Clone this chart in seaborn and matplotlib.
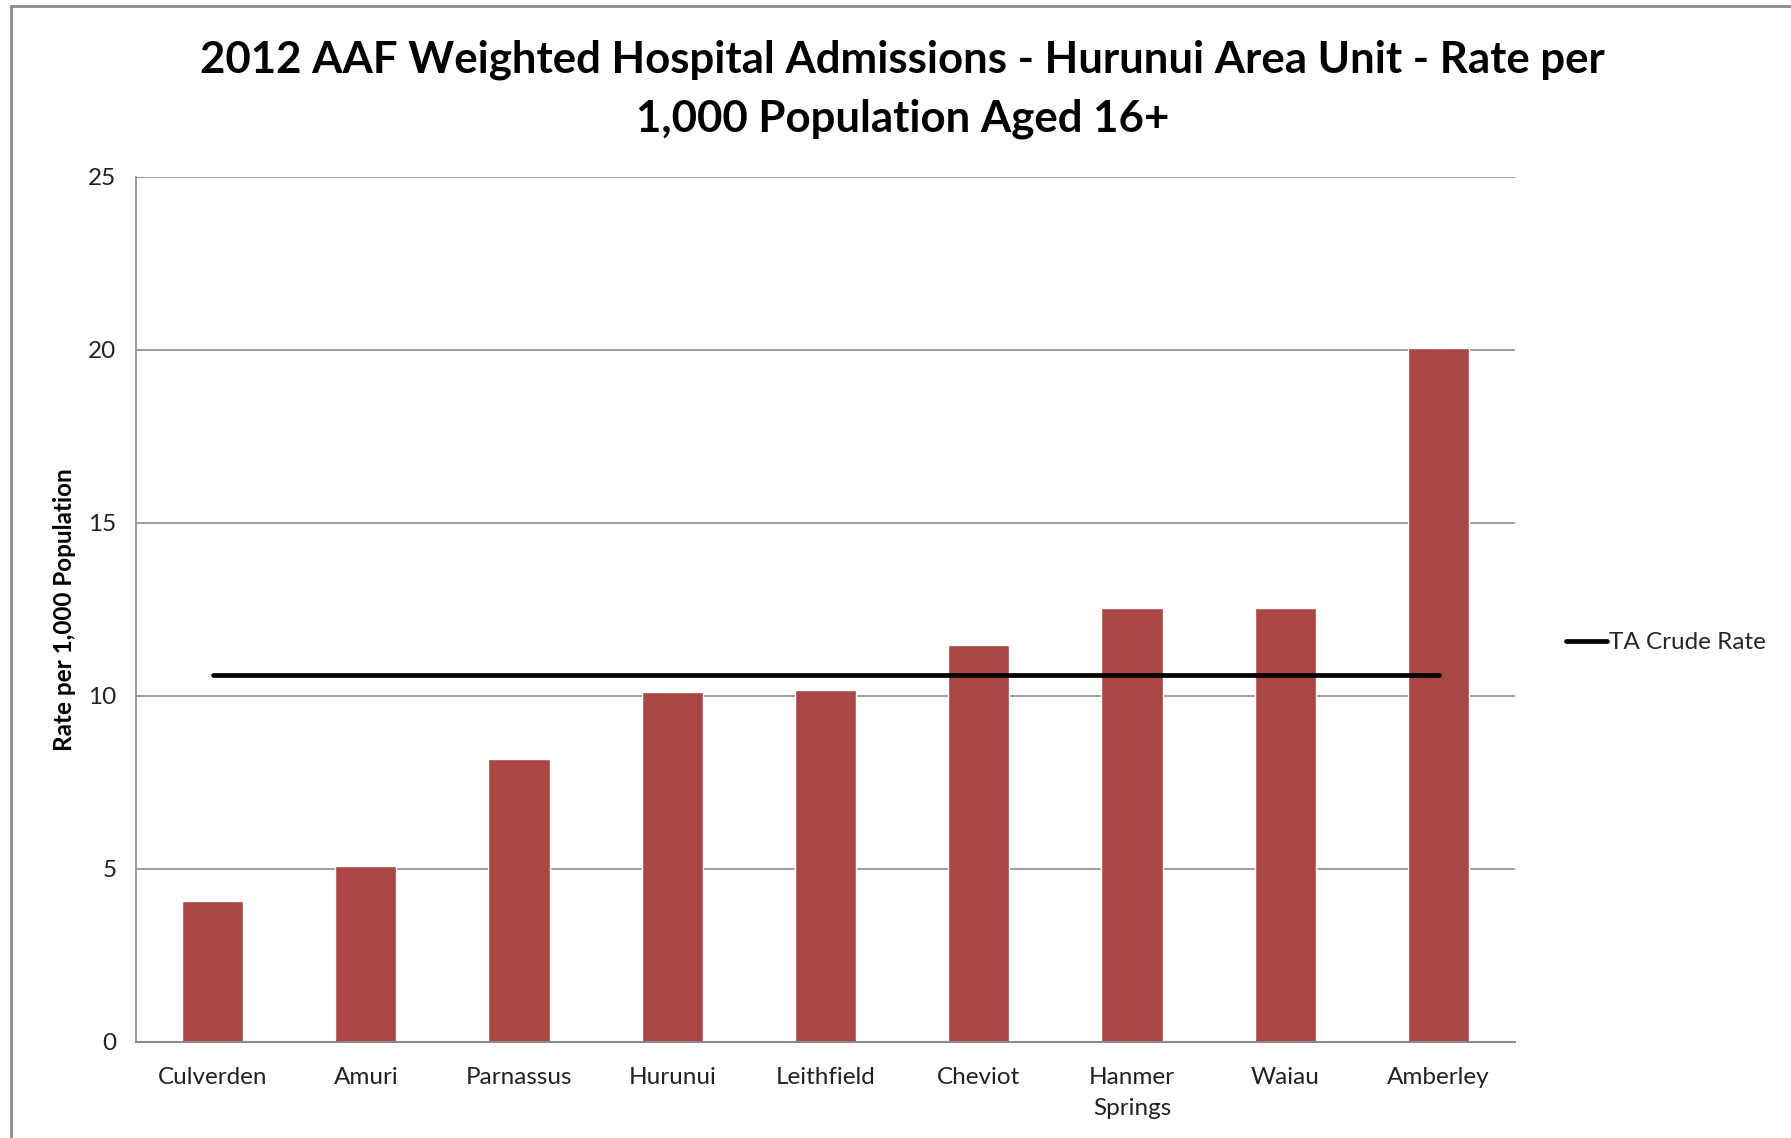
import pandas as pd
import seaborn as sns
import matplotlib.pyplot as plt
from matplotlib.lines import Line2D

areas = ["Culverden", "Amuri", "Parnassus", "Hurunui", "Leithfield",
         "Cheviot", "Hanmer\nSprings", "Waiau", "Amberley"]
rates = [4.08, 5.08, 8.19, 10.11, 10.18, 11.48, 12.54, 12.54, 20.07]
ta_crude_rate = 10.6
y_ticks = [0, 5, 10, 15, 20, 25]

title = "2012 AAF Weighted Hospital Admissions - Hurunui Area Unit - Rate per\n1,000 Population Aged 16+"

sns.set_style("white")
plt.rcParams['font.family'] = ['Lato', 'DejaVu Sans']

fig = plt.figure(figsize=(17.91, 11.38), dpi=100)
ax = fig.add_axes([0.0759, 0.0844, 0.846 - 0.0759, 0.8445 - 0.0844])

data = pd.DataFrame({"area": areas, "rate": rates})
sns.barplot(data=data, x="area", y="rate", color="#AA4643", saturation=1,
            width=0.4, ax=ax, zorder=2)

ax.plot(range(len(areas)), [ta_crude_rate] * len(areas), color="black",
        lw=3.4, solid_capstyle="round", zorder=3)

ax.set_ylim(0, 25)
ax.set_yticks(y_ticks)
ax.set_xlim(-0.5, len(areas) - 0.5)
ax.yaxis.grid(True, color="#8c8c8c", lw=1.2)
ax.set_axisbelow(True)
for s in ["top", "right"]:
    ax.spines[s].set_visible(False)
ax.spines["left"].set_color("#8c8c8c")
ax.spines["bottom"].set_color("#8c8c8c")
ax.spines["left"].set_linewidth(1.2)
ax.spines["bottom"].set_linewidth(1.5)
ax.tick_params(axis="both", length=0, labelsize=17.5, colors="#222222", pad=14)
ax.tick_params(axis="x", pad=18)
for lbl in ax.get_xticklabels():
    lbl.set_linespacing(1.6)
ax.set_xlabel("")
ax.set_ylabel("Rate per 1,000 Population", fontsize=17.5, fontweight="bold",
              labelpad=9, color="black")

fig.suptitle(title, x=0.504, y=0.965, fontsize=31.5, fontweight="bold",
             linespacing=1.55, color="black")

handle = Line2D([], [], color="black", lw=3.4, solid_capstyle="round")
fig.legend([handle], ["TA Crude Rate"], loc="center left",
           bbox_to_anchor=(0.862, 0.435), frameon=False, fontsize=17.5,
           handlelength=1.7, handletextpad=0.1)

# chart border (Excel-style frame)
fig.add_artist(Line2D([0.0064, 0.0064], [0, 0.995], color="#8c8c8c", lw=2,
                      transform=fig.transFigure))
fig.add_artist(Line2D([0.0064, 1], [0.995, 0.995], color="#8c8c8c", lw=2,
                      transform=fig.transFigure))

fig.savefig("out.png", dpi=100)
